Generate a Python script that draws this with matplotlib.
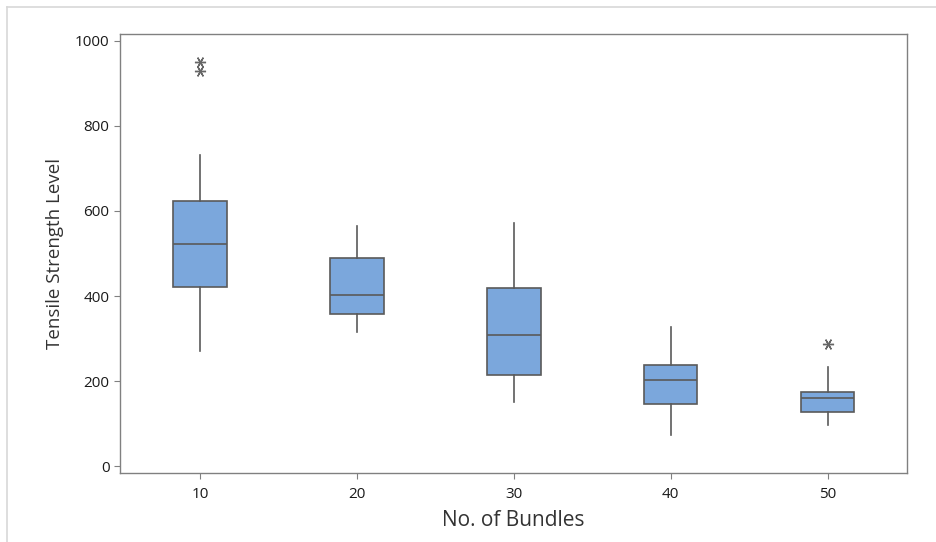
import matplotlib
matplotlib.use("Agg")
import matplotlib.pyplot as plt
from matplotlib.lines import Line2D

plt.rcParams['font.family'] = ['Open Sans', 'DejaVu Sans']

# Box plot summary
bundles = [10, 20, 30, 40, 50]
whisker_low = [271, 315, 151, 73, 96]
q1 = [421, 358, 214, 146, 127]
median = [522, 402, 308, 202, 160]
q3 = [624, 489, 419, 238, 174]
whisker_high = [732, 565, 572, 327, 233]
outliers = [[951, 929], [], [], [], [287]]

stats = []
for i in range(len(bundles)):
    stats.append({'whislo': whisker_low[i], 'q1': q1[i], 'med': median[i],
                  'q3': q3[i], 'whishi': whisker_high[i], 'fliers': outliers[i]})

fig = plt.figure(figsize=(9.36, 5.42), dpi=100)
ax = fig.add_axes([0.1282, 0.1273, 0.969 - 0.1282, 0.9373 - 0.1273])

edge = '#5a5a5a'
ax.bxp(stats, positions=bundles, widths=3.4, patch_artist=True, showcaps=False,
       boxprops=dict(facecolor='#7ba7dc', edgecolor=edge, linewidth=1.2),
       medianprops=dict(color=edge, linewidth=1.2),
       whiskerprops=dict(color=edge, linewidth=1.2),
       flierprops=dict(marker=(6, 2, 90), markersize=8, markeredgecolor='#666666',
                       markeredgewidth=1.0, linestyle='none'))

ax.set_xlim(4.9, 55.05)
ax.set_ylim(-16, 1016)
ax.set_xticks(bundles)
ax.set_xticklabels([str(b) for b in bundles])
ax.set_yticks([0, 200, 400, 600, 800, 1000])

for s in ax.spines.values():
    s.set_color('#808080')
    s.set_linewidth(1.0)
ax.tick_params(axis='both', colors='#808080', length=4, labelcolor='#1a1a1a', labelsize=11)
ax.tick_params(axis='x', pad=6)

ax.set_xlabel('No. of Bundles', fontsize=15, color='#333333', labelpad=6)
ax.set_ylabel('Tensile Strength Level', fontsize=13.5, color='#333333', labelpad=8)

# light outer frame of the screenshot
fig.add_artist(Line2D([7 / 936, 7 / 936], [0, 1 - 7 / 542], color='#d8d8d8', linewidth=1.2,
                      transform=fig.transFigure))
fig.add_artist(Line2D([7 / 936, 1], [1 - 7 / 542, 1 - 7 / 542], color='#d8d8d8', linewidth=1.2,
                      transform=fig.transFigure))

fig.savefig('out.png', dpi=100)
